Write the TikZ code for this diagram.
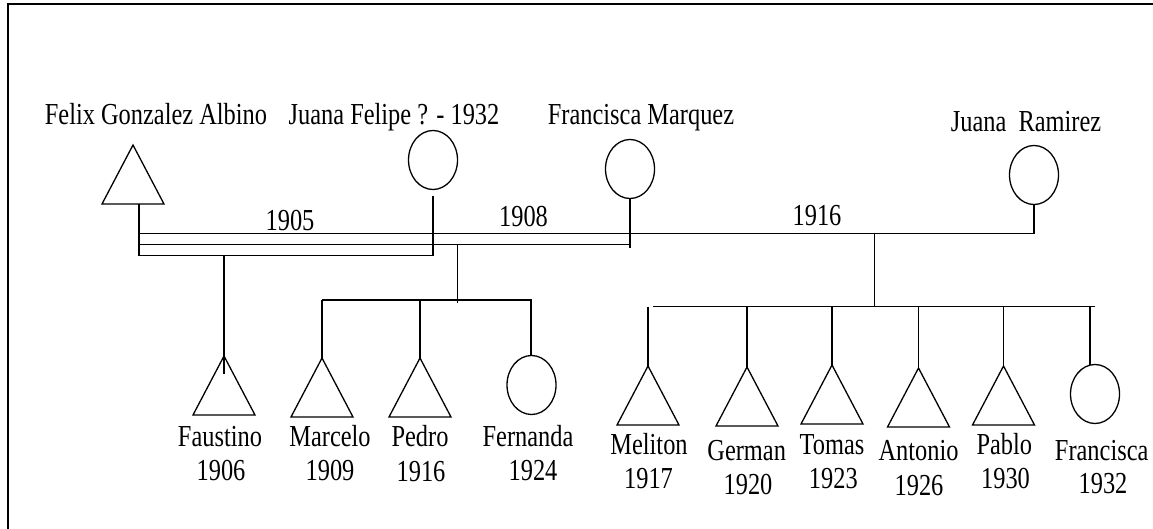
\documentclass[tikz,border=0pt]{standalone}
\usepackage{fontspec}
\setmainfont[FakeStretch=0.80]{Liberation Serif}
\usetikzlibrary{shapes.geometric}
\begin{document}
\begin{tikzpicture}[x=1pt,y=-1pt,
  conn/.style={line width=1.3pt},
  male/.style={draw, line width=1.3pt, isosceles triangle, isosceles triangle stretches,
    shape border rotate=90, minimum width=62pt, minimum height=59pt,
    inner sep=0pt, outer sep=0pt, anchor=apex},
  female/.style={draw, line width=1.3pt, ellipse, minimum width=49pt, minimum height=59pt,
    inner sep=0pt, outer sep=0pt},
  lbl/.style={anchor=base, inner sep=0pt, font=\fontsize{30.5}{33}\selectfont}]
\useasboundingbox (0,0) rectangle (1153,529);
% frame
\draw[line width=2pt] (8,529) -- (8,4) -- (1153,4);

% parents
\node[male] (felix) at (133,145) {};
\node[female] (jfelipe) at (433,160) {};
\node[female] (fmarquez) at (630,169) {};
\node[female] (jramirez) at (1034,175) {};

\node[lbl] (felixL) at (156,125) {Felix Gonzalez Albino};
\node[lbl] (jfelipeL) at (394,125) {Juana Felipe ? - 1932};
\node[lbl] (fmarquezL) at (641,125) {Francisca Marquez};
\node[lbl] (jramirezL) at (1026,132) {Juana\ \ Ramirez};

\node[lbl] (m1) at (290,231) {1905};
\node[lbl] (m2) at (523.5,226.5) {1908};
\node[lbl] (m3) at (817,225.5) {1916};

% children
\node[male] (faustino) at (224,356) {};
\node[male] (marcelo) at (322,358) {};
\node[male] (pedro) at (420,358) {};
\node[female] (fernanda) at (531.5,385) {};
\node[male] (meliton) at (648,366) {};
\node[male] (german) at (747,367) {};
\node[male] (tomas) at (832,365) {};
\node[male] (antonio) at (918.5,368) {};
\node[male] (pablo) at (1003.5,366) {};
\node[female] (francisca) at (1095,394) {};

\node[lbl] (faustinoL) at (220,446.5) {Faustino};
\node[lbl] (faustinoY) at (221,480) {1906};
\node[lbl] (marceloL) at (330,446) {Marcelo};
\node[lbl] (marceloY) at (330,480) {1909};
\node[lbl] (pedroL) at (420,446) {Pedro};
\node[lbl] (pedroY) at (421,481.5) {1916};
\node[lbl] (fernandaL) at (528,446.5) {Fernanda};
\node[lbl] (fernandaY) at (533,480) {1924};
\node[lbl] (melitonL) at (649,454) {Meliton};
\node[lbl] (melitonY) at (648.5,488.3) {1917};
\node[lbl] (germanL) at (746.7,460) {German};
\node[lbl] (germanY) at (748,494) {1920};
\node[lbl] (tomasL) at (832,454) {Tomas};
\node[lbl] (tomasY) at (833.3,488) {1923};
\node[lbl] (antonioL) at (918.5,460) {Antonio};
\node[lbl] (antonioY) at (919,495) {1926};
\node[lbl] (pabloL) at (1004.3,454) {Pablo};
\node[lbl] (pabloY) at (1005.5,488) {1930};
\node[lbl] (franciscaL) at (1101.7,460) {Francisca};
\node[lbl] (franciscaY) at (1103,493.3) {1932};

% levels of the marriage and sibling lines
\coordinate (yA) at (0,233.3);
\coordinate (yB) at (0,244.3);
\coordinate (yC) at (0,255.7);
\coordinate (yS1) at (0,300);
\coordinate (yS2) at (0,306.5);
\coordinate (felixFoot) at ([xshift=6pt]felix.south);
\coordinate (fam2) at (457.5,244.3);
\coordinate (fam3) at (874.5,233.3);

% marriage 1905
\draw[conn] (felixFoot) -- (felixFoot |- yC) -| ([yshift=-7pt]jfelipe.south);
% marriage 1908
\draw[conn] (fmarquez.south) -- ([yshift=-3.7pt]fmarquez.south |- yB);
\draw[conn] (fmarquez.south |- yB) -- (felixFoot |- yB);
% marriage 1916
\draw[conn] (jramirez.south) -- (jramirez.south |- yA) -- ([xshift=-1pt]felixFoot |- yA);

% children of 1905
\draw[conn] (faustino.apex |- yC) -- ([yshift=-18pt]faustino.apex);
% children of 1908
\draw[conn] (fam2) -- ([yshift=-3.3pt]fam2 |- yS1);
\draw[conn] (marcelo.apex |- yS1) -- (fernanda.north |- yS1);
\draw[conn] (marcelo.apex |- yS1) -- (marcelo.apex);
\draw[conn] (pedro.apex |- yS1) -- (pedro.apex);
\draw[conn] ([xshift=-0.5pt]fernanda.north |- yS1) -- ([xshift=-0.5pt]fernanda.north);
% children of 1916
\draw[conn] (fam3) -- (fam3 |- yS2);
\draw[conn] ([xshift=5pt]meliton.apex |- yS2) -- (francisca.north |- yS2);
\draw[conn] (meliton.apex |- yS2) -- (meliton.apex);
\draw[conn] (german.apex |- yS2) -- (german.apex);
\draw[conn] (tomas.apex |- yS2) -- (tomas.apex);
\draw[conn] (antonio.apex |- yS2) -- (antonio.apex);
\draw[conn] (pablo.apex |- yS2) -- (pablo.apex);
\draw[conn] ([xshift=-5pt]francisca.north |- yS2) -- ([xshift=-5pt,yshift=-0.6pt]francisca.north);
\end{tikzpicture}
\end{document}
